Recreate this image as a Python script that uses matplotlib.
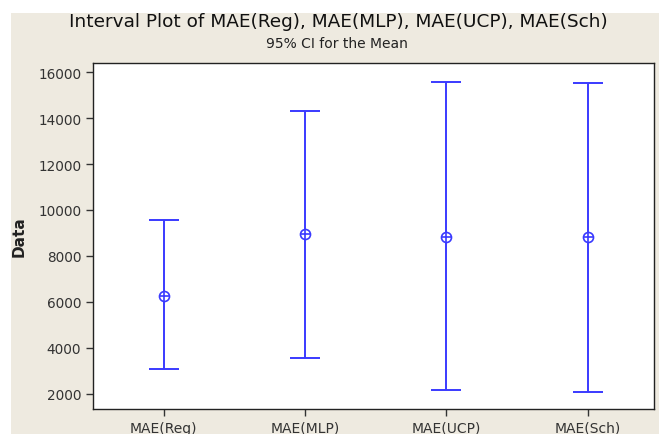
import matplotlib
matplotlib.use("Agg")
import matplotlib.pyplot as plt
from matplotlib.patches import Rectangle
import numpy as np

categories = ["MAE(Reg)", "MAE(MLP)", "MAE(UCP)", "MAE(Sch)"]
means = [6270, 8935, 8820, 8820]
lower = [3090, 3570, 2145, 2090]
upper = [9560, 14310, 15590, 15520]
yticks = [2000, 4000, 6000, 8000, 10000, 12000, 14000, 16000]

bg = "#EEEAE0"
blue = "#3A3AFF"

fig = plt.figure(figsize=(6.59, 4.35), dpi=100)
fig.patch.set_facecolor("white")
fig.patches.append(Rectangle((11/659, 0), 1 - 11/659, 1 - 14/435,
                             transform=fig.transFigure, facecolor=bg,
                             edgecolor="none", zorder=-10))

ax = fig.add_axes([93/659, 1 - 410/435, (654 - 93)/659, (410 - 64)/435])
ax.set_facecolor("white")

x = np.arange(len(categories))
m = np.array(means)
err = np.vstack([m - np.array(lower), np.array(upper) - m])
ax.errorbar(x, m, yerr=err, fmt="none", ecolor=blue, elinewidth=1.4,
            capsize=10.5, capthick=1.4, zorder=2)
ax.plot(x, m, linestyle="none", marker="o", markersize=7.2, mfc="white",
        mec=blue, mew=1.2, zorder=3)
ax.plot(x, m, linestyle="none", marker="+", markersize=7.2, mec=blue,
        mew=1.2, zorder=4)

ax.set_xlim(-0.5, 3.47)
ax.set_ylim(1330, 16400)
ax.set_xticks(x)
ax.set_xticklabels(categories, fontsize=10, color="#333333")
ax.set_yticks(yticks)
ax.set_yticklabels([str(v) for v in yticks], fontsize=9.8, color="#333333")
ax.tick_params(axis="both", direction="out", length=5, width=1, color="#333333")
for s in ax.spines.values():
    s.set_color("#222222")
    s.set_linewidth(1)

ax.set_ylabel("Data", fontsize=11, fontweight="bold", color="#222222", labelpad=8)

fig.text(338/659, 1 - 22/435, "Interval Plot of MAE(Reg), MAE(MLP), MAE(UCP), MAE(Sch)",
         ha="center", va="center", fontsize=13.3, color="#111111")
fig.text(337/659, 1 - 44/435, "95% CI for the Mean", ha="center", va="center",
         fontsize=10, color="#222222")

fig.savefig("out.png", dpi=100, facecolor=fig.get_facecolor())
